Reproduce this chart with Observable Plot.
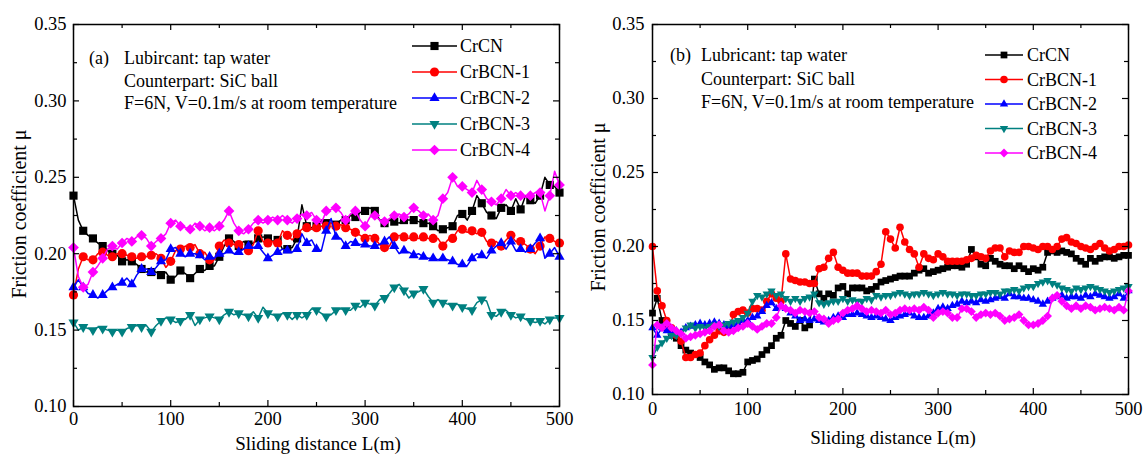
<!DOCTYPE html>
<html><head><meta charset="utf-8">
<script src="https://cdn.jsdelivr.net/npm/d3@7"></script>
<script src="https://cdn.jsdelivr.net/npm/@observablehq/plot@0.6"></script>
<style>
html,body{margin:0;padding:0;background:#fff;}
#wrap{position:relative;width:1143px;height:454px;font-family:"Liberation Serif","Times New Roman",serif;color:#000;overflow:hidden;background:#fff;}
.panel{position:absolute;top:0;}
#overlay{position:absolute;left:0;top:0;pointer-events:none;}
</style></head><body><div id="wrap"></div>
<script>
// ---------- data ----------
const distance = d3.range(0, 501, 5); // sliding distance (m), 101 samples
const seriesNames = ["CrCN", "CrBCN-1", "CrBCN-2", "CrBCN-3", "CrBCN-4"];
const xTicks = [0, 100, 200, 300, 400, 500];
const xMinor = [50, 150, 250, 350, 450];
const yTicks = [0.10, 0.15, 0.20, 0.25, 0.30, 0.35];
const yMinor = [0.125, 0.175, 0.225, 0.275, 0.325];

const a_CrCN = [
0.238,0.222,0.215,0.212,0.210,0.207,0.205,0.202,0.200,0.199,
0.195,0.196,0.195,0.193,0.190,0.188,0.188,0.188,0.186,0.188,
0.183,0.185,0.189,0.187,0.184,0.187,0.190,0.189,0.192,0.192,
0.198,0.205,0.210,0.208,0.205,0.208,0.206,0.207,0.210,0.211,
0.210,0.208,0.209,0.203,0.203,0.204,0.210,0.232,0.218,0.217,
0.218,0.222,0.220,0.220,0.219,0.222,0.222,0.225,0.224,0.227,
0.228,0.230,0.228,0.222,0.220,0.222,0.221,0.220,0.222,0.222,
0.222,0.221,0.220,0.220,0.218,0.215,0.216,0.217,0.218,0.225,
0.226,0.222,0.228,0.238,0.233,0.227,0.225,0.223,0.230,0.232,
0.228,0.236,0.229,0.238,0.235,0.233,0.238,0.250,0.245,0.244,
0.240];
const a_CrBCN1 = [
0.173,0.190,0.198,0.196,0.196,0.200,0.201,0.199,0.198,0.200,
0.200,0.199,0.198,0.197,0.198,0.198,0.199,0.200,0.197,0.191,
0.195,0.202,0.203,0.205,0.204,0.206,0.200,0.201,0.196,0.196,
0.205,0.209,0.207,0.206,0.206,0.203,0.202,0.206,0.215,0.208,
0.207,0.208,0.207,0.215,0.212,0.209,0.213,0.216,0.217,0.216,
0.217,0.218,0.218,0.220,0.218,0.219,0.217,0.216,0.214,0.212,
0.210,0.212,0.210,0.206,0.204,0.205,0.211,0.212,0.211,0.210,
0.211,0.210,0.211,0.210,0.210,0.210,0.205,0.209,0.210,0.215,
0.216,0.214,0.215,0.213,0.214,0.208,0.207,0.208,0.205,0.209,
0.212,0.208,0.208,0.206,0.203,0.200,0.205,0.211,0.210,0.208,
0.207];
const a_CrBCN2 = [
0.178,0.183,0.178,0.174,0.173,0.171,0.173,0.176,0.178,0.180,
0.181,0.184,0.180,0.186,0.190,0.190,0.188,0.191,0.195,0.196,
0.203,0.204,0.200,0.198,0.200,0.200,0.199,0.196,0.198,0.197,
0.200,0.200,0.202,0.200,0.201,0.203,0.205,0.204,0.205,0.201,
0.197,0.199,0.201,0.203,0.202,0.201,0.203,0.213,0.207,0.209,
0.203,0.202,0.215,0.223,0.211,0.210,0.205,0.208,0.207,0.206,
0.206,0.205,0.205,0.206,0.208,0.211,0.205,0.200,0.202,0.201,
0.199,0.200,0.198,0.197,0.197,0.196,0.197,0.196,0.195,0.193,
0.193,0.192,0.197,0.200,0.199,0.197,0.202,0.205,0.207,0.203,
0.208,0.202,0.203,0.201,0.203,0.207,0.210,0.197,0.200,0.204,
0.198];
const a_CrBCN3 = [
0.155,0.150,0.152,0.151,0.150,0.152,0.151,0.150,0.149,0.150,
0.149,0.151,0.152,0.153,0.152,0.153,0.149,0.153,0.156,0.158,
0.157,0.155,0.156,0.157,0.160,0.153,0.157,0.158,0.159,0.158,
0.157,0.160,0.162,0.160,0.161,0.160,0.159,0.162,0.158,0.165,
0.161,0.160,0.159,0.161,0.160,0.157,0.160,0.158,0.160,0.164,
0.163,0.161,0.159,0.160,0.163,0.164,0.163,0.163,0.166,0.165,
0.168,0.167,0.166,0.170,0.171,0.174,0.178,0.180,0.176,0.171,
0.174,0.175,0.177,0.172,0.168,0.170,0.168,0.167,0.166,0.167,
0.165,0.164,0.163,0.168,0.170,0.169,0.160,0.159,0.162,0.163,
0.160,0.158,0.159,0.157,0.156,0.155,0.156,0.154,0.157,0.158,
0.158];
const a_CrBCN4 = [
0.204,0.185,0.178,0.180,0.188,0.192,0.197,0.203,0.205,0.203,
0.207,0.210,0.208,0.211,0.212,0.210,0.205,0.208,0.210,0.213,
0.220,0.222,0.218,0.217,0.216,0.220,0.218,0.215,0.217,0.215,
0.218,0.222,0.228,0.220,0.215,0.213,0.216,0.220,0.222,0.220,
0.222,0.224,0.222,0.225,0.222,0.220,0.223,0.226,0.225,0.227,
0.222,0.220,0.228,0.229,0.230,0.227,0.222,0.226,0.228,0.222,
0.218,0.224,0.225,0.222,0.221,0.223,0.225,0.226,0.224,0.226,
0.230,0.228,0.225,0.226,0.222,0.225,0.236,0.240,0.250,0.244,
0.244,0.242,0.240,0.248,0.242,0.236,0.234,0.232,0.236,0.242,
0.238,0.240,0.238,0.237,0.238,0.240,0.240,0.228,0.238,0.254,
0.245];

const b_CrCN = [
0.155,0.165,0.150,0.145,0.140,0.138,0.133,0.130,0.128,0.127,
0.125,0.122,0.120,0.117,0.118,0.118,0.116,0.114,0.114,0.115,
0.122,0.123,0.124,0.127,0.130,0.133,0.138,0.140,0.150,0.148,
0.146,0.150,0.145,0.147,0.178,0.168,0.165,0.168,0.167,0.172,
0.173,0.168,0.172,0.172,0.172,0.170,0.171,0.173,0.176,0.177,
0.178,0.179,0.180,0.180,0.180,0.182,0.184,0.185,0.182,0.183,
0.184,0.185,0.186,0.187,0.187,0.186,0.188,0.198,0.193,0.188,
0.187,0.192,0.190,0.188,0.187,0.187,0.185,0.187,0.185,0.183,
0.185,0.184,0.186,0.196,0.197,0.196,0.197,0.196,0.195,0.192,
0.190,0.188,0.192,0.190,0.192,0.193,0.193,0.192,0.193,0.194,
0.194];
const b_CrBCN1 = [
0.200,0.170,0.160,0.150,0.145,0.140,0.136,0.125,0.125,0.127,
0.128,0.133,0.137,0.140,0.143,0.142,0.143,0.154,0.156,0.157,
0.155,0.158,0.158,0.157,0.163,0.168,0.165,0.163,0.195,0.178,
0.177,0.176,0.176,0.175,0.175,0.185,0.186,0.192,0.196,0.186,
0.184,0.182,0.182,0.182,0.180,0.180,0.180,0.183,0.188,0.210,
0.205,0.199,0.213,0.203,0.198,0.195,0.186,0.195,0.192,0.191,
0.195,0.193,0.190,0.190,0.190,0.190,0.191,0.192,0.194,0.193,
0.192,0.197,0.199,0.199,0.193,0.197,0.196,0.196,0.200,0.200,
0.199,0.198,0.200,0.200,0.198,0.200,0.205,0.206,0.203,0.202,
0.200,0.199,0.198,0.200,0.202,0.199,0.197,0.198,0.200,0.200,
0.201];
const b_CrBCN2 = [
0.145,0.140,0.145,0.143,0.142,0.143,0.142,0.145,0.146,0.147,
0.148,0.147,0.148,0.149,0.148,0.147,0.146,0.147,0.148,0.150,
0.150,0.152,0.153,0.156,0.160,0.162,0.158,0.160,0.158,0.155,
0.153,0.150,0.151,0.150,0.151,0.150,0.149,0.150,0.152,0.153,
0.152,0.154,0.154,0.155,0.154,0.153,0.152,0.153,0.152,0.151,
0.150,0.152,0.153,0.154,0.155,0.153,0.152,0.152,0.153,0.155,
0.158,0.159,0.158,0.160,0.161,0.163,0.162,0.163,0.162,0.164,
0.163,0.164,0.165,0.166,0.165,0.168,0.166,0.166,0.165,0.165,
0.164,0.163,0.161,0.163,0.165,0.166,0.167,0.165,0.166,0.166,
0.165,0.167,0.166,0.168,0.167,0.166,0.165,0.166,0.168,0.165,
0.170];
const b_CrBCN3 = [
0.125,0.132,0.135,0.138,0.140,0.140,0.142,0.145,0.147,0.145,
0.146,0.145,0.146,0.147,0.146,0.147,0.148,0.149,0.150,0.152,
0.155,0.163,0.167,0.166,0.168,0.170,0.167,0.168,0.165,0.163,
0.165,0.163,0.165,0.166,0.168,0.162,0.161,0.162,0.163,0.163,
0.165,0.163,0.164,0.163,0.163,0.165,0.164,0.167,0.166,0.167,
0.167,0.168,0.169,0.168,0.167,0.168,0.168,0.169,0.168,0.167,
0.168,0.169,0.168,0.168,0.167,0.168,0.168,0.167,0.167,0.168,
0.168,0.169,0.169,0.168,0.170,0.170,0.171,0.170,0.172,0.173,
0.173,0.175,0.176,0.177,0.175,0.174,0.172,0.171,0.170,0.172,
0.171,0.172,0.173,0.172,0.171,0.170,0.169,0.170,0.171,0.172,
0.173];
const b_CrBCN4 = [
0.120,0.147,0.145,0.148,0.145,0.143,0.141,0.138,0.139,0.140,
0.141,0.142,0.143,0.146,0.147,0.143,0.142,0.143,0.145,0.146,
0.148,0.146,0.144,0.146,0.148,0.148,0.152,0.160,0.158,0.157,
0.155,0.157,0.156,0.155,0.156,0.152,0.151,0.148,0.150,0.151,
0.155,0.157,0.158,0.160,0.158,0.156,0.157,0.156,0.155,0.157,
0.154,0.155,0.157,0.158,0.157,0.158,0.157,0.159,0.157,0.152,
0.155,0.156,0.155,0.152,0.152,0.158,0.158,0.156,0.152,0.154,
0.155,0.154,0.155,0.153,0.150,0.151,0.152,0.154,0.150,0.147,
0.147,0.148,0.150,0.153,0.165,0.167,0.163,0.160,0.158,0.160,
0.158,0.160,0.159,0.157,0.158,0.159,0.158,0.157,0.159,0.157,
0.170];

// ---------- styles ----------
const colors = ["#000000", "#ff0000", "#0000ff", "#008080", "#ff00ff"];
const symbols = [d3.symbolSquare, d3.symbolCircle, d3.symbolTriangle, d3.symbolTriangle, d3.symbolDiamond2];
const rotates = [0, 0, 0, 180, 0];
const symScale = [1, 1, 0.82, 0.82, 1.05];
const H = 454;
const FONT = '"Liberation Serif","Times New Roman",serif';

function makePanel(cfg) {
  const innerW = cfg.w - cfg.ml - cfg.mr, innerH = H - cfg.mt - cfg.mb;
  const marks = [];
  cfg.values.forEach((vals, k) => {
    const rows = vals.map((v, i) => ({x: distance[i], y: v}));
    marks.push(Plot.line(rows, {x: "x", y: "y", stroke: colors[k], strokeWidth: 1.5}));
    marks.push(Plot.dot(rows.filter((d, i) => i % cfg.step === 0), {
      x: "x", y: "y", fill: colors[k], stroke: "none", symbol: symbols[k],
      r: cfg.r * symScale[k], rotate: rotates[k]
    }));
  });
  // inward ticks on all four sides
  marks.push(Plot.ruleX(xTicks, {x: d => d, insetTop: innerH - 6, stroke: "#000", strokeWidth: 1.2}));
  marks.push(Plot.ruleX(xMinor, {x: d => d, insetTop: innerH - 4, stroke: "#000", strokeWidth: 1.2}));
  marks.push(Plot.ruleX(xTicks, {x: d => d, insetBottom: innerH - 6, stroke: "#000", strokeWidth: 1.2}));
  marks.push(Plot.ruleX(xMinor, {x: d => d, insetBottom: innerH - 4, stroke: "#000", strokeWidth: 1.2}));
  marks.push(Plot.ruleY(yTicks, {y: d => d, insetRight: innerW - 6, stroke: "#000", strokeWidth: 1.2}));
  marks.push(Plot.ruleY(yMinor, {y: d => d, insetRight: innerW - 4, stroke: "#000", strokeWidth: 1.2}));
  marks.push(Plot.ruleY(yTicks, {y: d => d, insetLeft: innerW - 6, stroke: "#000", strokeWidth: 1.2}));
  marks.push(Plot.ruleY(yMinor, {y: d => d, insetLeft: innerW - 4, stroke: "#000", strokeWidth: 1.2}));
  marks.push(Plot.frame({stroke: "#000", strokeWidth: 1.5}));
  marks.push(Plot.axisX(xTicks, {tickSize: 0, tickPadding: cfg.xpad, label: null, tickFormat: d => String(d)}));
  marks.push(Plot.axisY(yTicks, {tickSize: 0, tickPadding: cfg.ypad, label: null, tickFormat: d3.format(".2f")}));
  return Plot.plot({
    width: cfg.w, height: H,
    marginLeft: cfg.ml, marginRight: cfg.mr, marginTop: cfg.mt, marginBottom: cfg.mb,
    x: {domain: [0, 500]},
    y: {domain: [0.10, 0.35]},
    style: {fontFamily: FONT, fontSize: "18.5px", color: "#000", background: "transparent", overflow: "visible"},
    marks
  });
}

const wrap = document.getElementById("wrap");
const A = {w: 570, ml: 73, mr: 11, mt: 24, mb: 48, step: 2, r: 4.6, xpad: 5, ypad: 7,
  values: [a_CrCN, a_CrBCN1, a_CrBCN2, a_CrBCN3, a_CrBCN4]};
const B = {w: 573, ml: 82, mr: 15, mt: 24, mb: 60, step: 1, r: 3.8, xpad: 7, ypad: 8,
  values: [b_CrCN, b_CrBCN1, b_CrBCN2, b_CrBCN3, b_CrBCN4]};

const pa = makePanel(A); pa.classList.add("panel"); pa.style.left = "0px"; wrap.appendChild(pa);
const pb = makePanel(B); pb.classList.add("panel"); pb.style.left = "570px"; wrap.appendChild(pb);

// ---------- overlay: legends, notes, axis titles ----------
const svg = d3.select(wrap).append("svg").attr("id", "overlay")
  .attr("width", 1143).attr("height", H)
  .style("font-family", FONT);

function legend(cfg) {
  seriesNames.forEach((name, k) => {
    const y = cfg.y0 + k * cfg.dy;
    svg.append("line").attr("x1", cfg.x1).attr("x2", cfg.x2).attr("y1", y).attr("y2", y)
      .attr("stroke", colors[k]).attr("stroke-width", 1.5);
    const rr = cfg.r * symScale[k];
    svg.append("path")
      .attr("d", d3.symbol(symbols[k], Math.PI * rr * rr)())
      .attr("transform", `translate(${(cfg.x1 + cfg.x2) / 2},${y}) rotate(${rotates[k]})`)
      .attr("fill", colors[k]);
    svg.append("text").attr("x", cfg.tx).attr("y", y).attr("dy", "0.35em")
      .attr("font-size", cfg.fs).text(name);
  });
}
legend({x1: 412, x2: 457, tx: 460, y0: 46, dy: 26, r: 4.6, fs: 18});
legend({x1: 985, x2: 1023, tx: 1027, y0: 55, dy: 24.5, r: 3.8, fs: 18});

function notes(cfg) {
  svg.append("text").attr("x", cfg.lx).attr("y", cfg.y0).attr("dy", "0.35em").attr("font-size", cfg.fs).text(cfg.tag);
  cfg.lines.forEach((t, i) => {
    svg.append("text").attr("x", cfg.tx).attr("y", cfg.y0 + i * cfg.dy).attr("dy", "0.35em")
      .attr("font-size", cfg.fs).text(t);
  });
}
notes({tag: "(a)", lx: 89, tx: 124, y0: 58, dy: 22.5, fs: 18,
  lines: ["Lubircant: tap water", "Counterpart: SiC ball", "F=6N, V=0.1m/s at room temperature"]});
notes({tag: "(b)", lx: 670, tx: 701, y0: 55, dy: 23.5, fs: 18,
  lines: ["Lubricant: tap water", "Counterpart: SiC ball", "F=6N, V=0.1m/s at room temperature"]});

function titles(cfg) {
  svg.append("text").attr("transform", `translate(${cfg.yx},${cfg.yy}) rotate(-90)`)
    .attr("text-anchor", "middle").attr("dy", "0.35em").attr("font-size", 20).text("Friction coefficient μ");
  svg.append("text").attr("x", cfg.xx).attr("y", cfg.xy).attr("text-anchor", "middle")
    .attr("dy", "0.35em").attr("font-size", 19).text("Sliding distance L(m)");
}
titles({yx: 19, yy: 214, xx: 318, xy: 443});
titles({yx: 598, yy: 207, xx: 893, xy: 437});
</script></body></html>
